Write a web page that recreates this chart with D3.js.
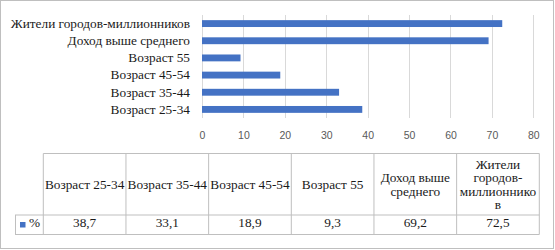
<!DOCTYPE html>
<html>
<head>
<meta charset="utf-8">
<script src="https://cdn.jsdelivr.net/npm/d3@7"></script>
<style>
  body { margin: 0; background: #fff; }
  svg { display: block; }
</style>
</head>
<body>
<svg width="555" height="250"></svg>
<script>
// chart data
const categories = ['Возраст 25-34', 'Возраст 35-44', 'Возраст 45-54', 'Возраст 55', 'Доход выше среднего', 'Жители городов-миллионников']
const values = [38.7, 33.1, 18.9, 9.3, 69.2, 72.5]
const seriesName = '%'
const xTicks = [0, 10, 20, 30, 40, 50, 60, 70, 80]

const blue = '#4472C4'
const serif = '"Liberation Serif", "Times New Roman", serif'
const fmt = d3.formatLocale({ decimal: ',', thousands: ' ', grouping: [3], currency: ['', ''] }).format('.1f')

const svg = d3.select('svg')

// outer frame
svg.append('rect')
  .attr('x', 0.5).attr('y', 0.5)
  .attr('width', 553).attr('height', 248)
  .attr('fill', '#fff')
  .attr('stroke', '#bfbfbf')

// scales
const x = d3.scaleLinear().domain([0, 80]).range([202, 533.3])
const y = d3.scaleBand()
  .domain(categories.slice().reverse())
  .range([15, 118])
  .paddingInner(0.6)
  .paddingOuter(0.3)

// gridlines
svg.append('g')
  .selectAll('line')
  .data(xTicks)
  .join('line')
  .attr('x1', (d) => Math.round(x(d)) + 0.5)
  .attr('x2', (d) => Math.round(x(d)) + 0.5)
  .attr('y1', 15)
  .attr('y2', 118)
  .attr('stroke', '#d9d9d9')

// bars
svg.append('g')
  .selectAll('rect')
  .data(categories)
  .join('rect')
  .attr('x', x(0))
  .attr('y', (d) => y(d))
  .attr('width', (d, i) => x(values[i]) - x(0))
  .attr('height', y.bandwidth())
  .attr('fill', blue)

// x axis tick labels
const xAxis = svg.append('g')
  .attr('transform', 'translate(0,118)')
  .call(d3.axisBottom(x).tickValues(xTicks).tickSize(0).tickPadding(14))
xAxis.select('.domain').remove()
xAxis.selectAll('text')
  .attr('fill', '#595959')
  .style('font-family', '"Liberation Sans", Arial, sans-serif')
  .style('font-size', '10.5px')

// y axis category labels
const yAxis = svg.append('g')
  .attr('transform', 'translate(202,0)')
  .call(d3.axisLeft(y).tickSize(0).tickPadding(12))
yAxis.select('.domain').remove()
yAxis.selectAll('text')
  .attr('fill', '#1a1a1a')
  .style('font-family', serif)
  .style('font-size', '13.3px')

// data table
const col = d3.scaleBand().domain(categories).range([43.3, 539.3])
const tTop = 153.5, tMid = 215, tBot = 234.5, legLeft = 15
const border = '#bfbfbf'
const table = svg.append('g')

// horizontal rules
table.append('line').attr('x1', col.range()[0]).attr('x2', col.range()[1])
  .attr('y1', tTop).attr('y2', tTop).attr('stroke', border)
table.append('line').attr('x1', legLeft).attr('x2', col.range()[1])
  .attr('y1', tMid).attr('y2', tMid).attr('stroke', border)
table.append('line').attr('x1', legLeft).attr('x2', col.range()[1])
  .attr('y1', tBot).attr('y2', tBot).attr('stroke', border)
// vertical rules
table.append('line').attr('x1', legLeft + 0.5).attr('x2', legLeft + 0.5)
  .attr('y1', tMid).attr('y2', tBot).attr('stroke', border)
table.selectAll('.vline')
  .data(categories.concat(['end']))
  .join('line')
  .attr('class', 'vline')
  .attr('x1', (d) => (d === 'end' ? col.range()[1] : col(d)))
  .attr('x2', (d) => (d === 'end' ? col.range()[1] : col(d)))
  .attr('y1', tTop)
  .attr('y2', tBot)
  .attr('stroke', border)

// wrap a label into lines that fit the cell width
const measure = svg.append('text').style('font-family', serif).style('font-size', '13.3px')
function wrap(label, width) {
  const words = label.replace(/-/g, '- ').split(' ').filter((w) => w)
  const lines = []
  let line = ''
  const fits = (s) => measure.text(s).node().getComputedTextLength() <= width
  words.forEach((w) => {
    const joined = line ? (line.endsWith('-') ? line + w : line + ' ' + w) : w
    if (fits(joined)) { line = joined; return }
    if (line) lines.push(line)
    line = ''
    // break long word by characters
    let part = ''
    for (const ch of w) {
      if (fits(part + ch)) part += ch
      else { lines.push(part); part = ch }
    }
    line = part
  })
  if (line) lines.push(line)
  return lines
}

const lineH = 13.3
categories.forEach((c, i) => {
  const cx = col(c) + col.bandwidth() / 2
  const lines = wrap(c, col.bandwidth() - 2)
  const y0 = (tTop + tMid) / 2 - ((lines.length - 1) * lineH) / 2
  lines.forEach((l, j) => {
    table.append('text')
      .attr('x', cx)
      .attr('y', y0 + j * lineH)
      .attr('dy', '0.35em')
      .attr('text-anchor', 'middle')
      .attr('fill', '#1a1a1a')
      .style('font-family', serif)
      .style('font-size', '13.3px')
      .text(l)
  })
  table.append('text')
    .attr('x', cx)
    .attr('y', (tMid + tBot) / 2 - 2)
    .attr('dy', '0.35em')
    .attr('text-anchor', 'middle')
    .attr('fill', '#1a1a1a')
    .style('font-family', serif)
    .style('font-size', '13.3px')
    .text(fmt(values[i]))
})
measure.remove()

// legend key in table
table.append('rect')
  .attr('x', 20).attr('y', 222)
  .attr('width', 5.5).attr('height', 5.5)
  .attr('fill', blue)
table.append('text')
  .attr('x', 29).attr('y', (tMid + tBot) / 2 - 2)
  .attr('dy', '0.35em')
  .attr('fill', '#1a1a1a')
  .style('font-family', serif)
  .style('font-size', '13.3px')
  .text(seriesName)
</script>
</body>
</html>
